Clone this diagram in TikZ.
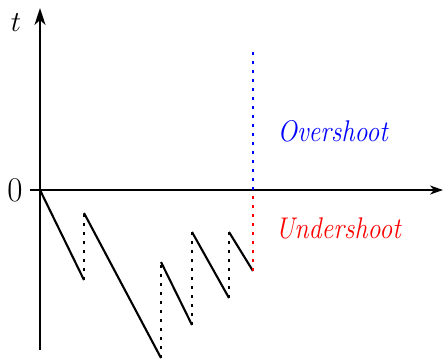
\RequirePackage{fix-cm}
\documentclass[tikz,border=0pt]{standalone}
\usetikzlibrary{arrows.meta}
\begin{document}
\begin{tikzpicture}[x=1pt,y=-1pt,
  axis/.style={line width=2.1pt,-{Stealth[length=17pt,width=11pt,inset=5pt]}},
  saw/.style={line width=2.1pt},
  jump/.style={line width=2.3pt,dash pattern=on 3pt off 6pt},
  lab/.style={font=\fontsize{26}{30}\selectfont\itshape}]
\useasboundingbox (0,0) rectangle (443,362);
\coordinate (yb) at (40,350);
\coordinate (yt) at (40,8);
\coordinate (xl) at (30,190);
\coordinate (xr) at (443,190);
\draw[axis] (yb) -- (yt);
\draw[line width=2.1pt,-{Stealth[length=13pt,width=9pt,inset=4pt]}] (xl) -- (xr);
\node[font=\fontsize{29}{32}\selectfont] (tl) at (16,23) {$t$};
\node[font=\fontsize{33}{36}\selectfont] (zero) at (15,190) {\scalebox{1}[1.05]{$0$}};
\coordinate (p0) at (40,190);
\coordinate (a1) at (84,280);
\coordinate (b1) at (84,213);
\coordinate (a2) at (161,358);
\coordinate (b2) at (161,262);
\coordinate (a3) at (192,325);
\coordinate (b3) at (192,232);
\coordinate (a4) at (229,298);
\coordinate (b4) at (229,232);
\coordinate (a5) at (253,271);
\coordinate (c0) at (253,190);
\coordinate (c1) at (253,48);
\draw[saw] (p0) -- (a1);
\draw[saw] (b1) -- (a2);
\draw[saw] (b2) -- (a3);
\draw[saw] (b3) -- (a4);
\draw[saw] (b4) -- (a5);
\draw[jump] (a1) -- (b1);
\draw[jump] (a2) -- (b2);
\draw[jump] (a3) -- (b3);
\draw[jump] (a4) -- (b4);
\draw[jump,red] (a5) -- (c0);
\draw[jump,blue] (c0) -- (c1);
\node[lab,blue,anchor=west] (ov) at (274,131) {\scalebox{1}[1.15]{Overshoot}};
\node[lab,red,anchor=west] (un) at (272,228) {\scalebox{1}[1.15]{Undershoot}};
\end{tikzpicture}
\end{document}
